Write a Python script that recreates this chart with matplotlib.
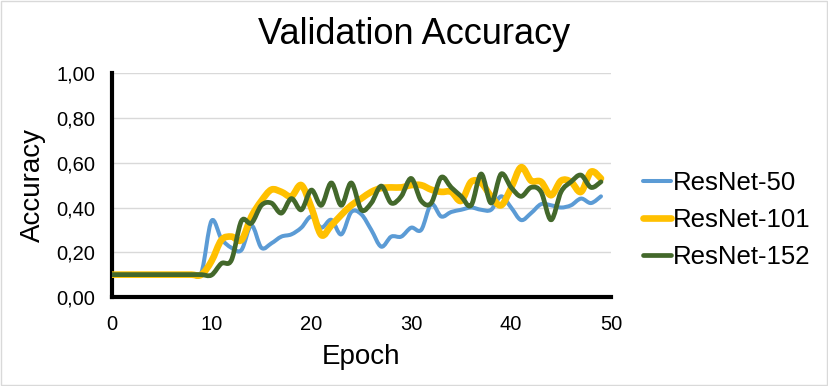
import matplotlib
matplotlib.use("Agg")
import matplotlib.pyplot as plt
from matplotlib.path import Path
from matplotlib.patches import PathPatch, Rectangle
from matplotlib.lines import Line2D
from matplotlib.ticker import FuncFormatter, MultipleLocator

plt.rcParams['font.family'] = ['Liberation Sans', 'DejaVu Sans']

epochs = list(range(50))

resnet50 = [0.10] * 9 + [
    0.11, 0.34, 0.26, 0.22, 0.21, 0.32, 0.22, 0.24, 0.27, 0.28,
    0.31, 0.36, 0.31, 0.345, 0.28, 0.38, 0.37, 0.30, 0.225, 0.27,
    0.27, 0.31, 0.30, 0.415, 0.36, 0.38, 0.39, 0.40, 0.39, 0.39,
    0.45, 0.40, 0.344, 0.375, 0.415, 0.41, 0.40, 0.41, 0.44, 0.42,
    0.45,
]
resnet101 = [0.10] * 9 + [
    0.10, 0.16, 0.255, 0.27, 0.255, 0.36, 0.43, 0.48, 0.47, 0.45,
    0.50, 0.40, 0.277, 0.32, 0.367, 0.41, 0.44, 0.47, 0.487, 0.49,
    0.49, 0.50, 0.50, 0.48, 0.47, 0.47, 0.43, 0.515, 0.51, 0.45,
    0.41, 0.487, 0.58, 0.52, 0.515, 0.455, 0.52, 0.515, 0.47, 0.56,
    0.53,
]
resnet152 = [0.10] * 9 + [
    0.10, 0.098, 0.15, 0.165, 0.34, 0.33, 0.41, 0.42, 0.375, 0.44,
    0.39, 0.478, 0.41, 0.51, 0.41, 0.51, 0.39, 0.42, 0.496, 0.42,
    0.45, 0.53, 0.43, 0.42, 0.535, 0.49, 0.45, 0.41, 0.55, 0.42,
    0.55, 0.49, 0.45, 0.49, 0.47, 0.345, 0.47, 0.515, 0.545, 0.49,
    0.515,
]

series = [
    ("ResNet-50", resnet50, "#5B9BD5", 2.9),
    ("ResNet-101", resnet101, "#FFC000", 4.8),
    ("ResNet-152", resnet152, "#43682B", 3.4),
]


def smooth_path(xs, ys):
    # Catmull-Rom spline as cubic Bezier segments, like Excel's smoothed lines
    pts = list(zip(xs, ys))
    verts = [pts[0]]
    codes = [Path.MOVETO]
    n = len(pts)
    for i in range(n - 1):
        p0 = pts[max(i - 1, 0)]
        p1 = pts[i]
        p2 = pts[i + 1]
        p3 = pts[min(i + 2, n - 1)]
        c1 = (p1[0] + (p2[0] - p0[0]) / 6, p1[1] + (p2[1] - p0[1]) / 6)
        c2 = (p2[0] - (p3[0] - p1[0]) / 6, p2[1] - (p3[1] - p1[1]) / 6)
        verts += [c1, c2, p2]
        codes += [Path.CURVE4] * 3
    return Path(verts, codes)


fig = plt.figure(figsize=(8.29, 3.86), dpi=100)
ax = fig.add_axes([0.1346, 0.2306, 0.6024, 0.5794])

handles = []
for name, vals, color, lw in series:
    patch = PathPatch(smooth_path(epochs, vals), fill=False, edgecolor=color,
                      linewidth=lw, capstyle='round', joinstyle='round', zorder=3)
    ax.add_patch(patch)
    handles.append(Line2D([], [], color=color, linewidth=lw, label=name,
                          solid_capstyle='round'))

ax.set_xlim(0, 50)
ax.set_ylim(0, 1)
ax.xaxis.set_major_locator(MultipleLocator(10))
ax.yaxis.set_major_locator(MultipleLocator(0.2))
ax.yaxis.set_major_formatter(FuncFormatter(lambda v, p: f"{v:.2f}".replace('.', ',')))
ax.grid(axis='y', color='#D9D9D9', linewidth=1)
ax.set_axisbelow(True)
ax.tick_params(length=0, labelsize=14.5)
ax.tick_params(axis='x', pad=13)
ax.tick_params(axis='y', pad=12)

for s in ['top', 'right']:
    ax.spines[s].set_visible(False)
for s in ['left', 'bottom']:
    ax.spines[s].set_linewidth(3)
    ax.spines[s].set_color('black')

fig.text(0.5, 0.91, "Validation Accuracy", fontsize=26, ha='center', va='center')
ax.set_xlabel("Epoch", fontsize=20, labelpad=7)
ax.set_ylabel("Accuracy", fontsize=20, labelpad=7)

fig.legend(handles=handles, loc='center left', bbox_to_anchor=(0.76, 0.43),
           frameon=False, fontsize=18.5, handlelength=1.1, handletextpad=0.05,
           labelspacing=0.5, borderpad=0)

fig.patches.append(Rectangle((0.001, 0.002), 0.997, 0.995, transform=fig.transFigure,
                             fill=False, edgecolor='#D9D9D9', linewidth=1))

fig.savefig("out.png", dpi=100)
